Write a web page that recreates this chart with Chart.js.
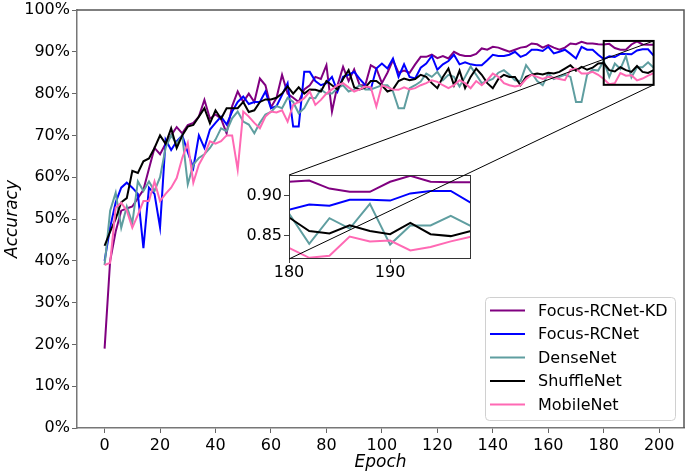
<!DOCTYPE html>
<html>
<head>
<meta charset="utf-8">
<script src="https://cdn.jsdelivr.net/npm/chart.js@4.4.1/dist/chart.umd.min.js"></script>
<style>
  html, body { margin: 0; padding: 0; background: #fff; }
  #wrap { position: relative; width: 685px; height: 474px; }
  #wrap canvas { position: absolute; }
</style>
</head>
<body>
<div id="wrap">
  <canvas id="main" width="685" height="474" style="left:0;top:0"></canvas>
  <canvas id="inset" width="250" height="120" style="left:235px;top:165px"></canvas>
  <canvas id="overlay" width="685" height="474" style="left:0;top:0"></canvas>
</div>
<script>
// data (one value every 2 epochs)
const epochs = [0,2,4,6,8,10,12,14,16,18,20,22,24,26,28,30,32,34,36,38,
  40,42,44,46,48,50,52,54,56,58,60,62,64,66,68,70,72,74,76,78,
  80,82,84,86,88,90,92,94,96,98,100,102,104,106,108,110,112,114,116,118,
  120,122,124,126,128,130,132,134,136,138,140,142,144,146,148,150,152,154,156,158,
  160,162,164,166,168,170,172,174,176,178,180,182,184,186,188,190,192,194,196,198];

const focusKD = [0.19,0.40,0.47,0.52,0.525,0.53,0.55,0.57,0.62,0.67,
  0.655,0.68,0.70,0.72,0.705,0.725,0.73,0.745,0.785,0.74,
  0.75,0.74,0.705,0.77,0.805,0.78,0.80,0.78,0.836,0.82,
  0.767,0.79,0.845,0.80,0.79,0.78,0.81,0.82,0.84,0.835,
  0.868,0.757,0.82,0.864,0.83,0.858,0.82,0.82,0.868,0.86,
  0.825,0.85,0.88,0.85,0.855,0.85,0.87,0.888,0.888,0.893,
  0.885,0.89,0.884,0.90,0.893,0.89,0.89,0.895,0.908,0.905,
  0.912,0.91,0.905,0.90,0.905,0.91,0.912,0.92,0.918,0.91,
  0.916,0.91,0.905,0.91,0.92,0.918,0.924,0.92,0.92,0.918,
  0.9175,0.919,0.909,0.905,0.905,0.9175,0.925,0.9175,0.917,0.917];

const focus = [0.40,0.48,0.54,0.575,0.587,0.575,0.56,0.43,0.575,0.56,
  0.48,0.69,0.665,0.686,0.70,0.66,0.622,0.70,0.67,0.714,
  0.73,0.745,0.726,0.757,0.78,0.793,0.775,0.78,0.78,0.805,
  0.765,0.77,0.797,0.825,0.721,0.721,0.852,0.852,0.83,0.82,
  0.825,0.84,0.805,0.84,0.845,0.852,0.835,0.82,0.81,0.86,
  0.872,0.86,0.884,0.84,0.87,0.84,0.836,0.862,0.872,0.89,
  0.857,0.87,0.878,0.893,0.87,0.875,0.87,0.868,0.868,0.88,
  0.893,0.89,0.89,0.893,0.90,0.888,0.893,0.905,0.905,0.902,
  0.912,0.896,0.90,0.905,0.895,0.884,0.912,0.905,0.905,0.893,
  0.8825,0.889,0.8875,0.895,0.895,0.894,0.903,0.906,0.906,0.891];

const denseNet = [0.39,0.52,0.563,0.479,0.53,0.49,0.59,0.567,0.59,0.567,
  0.60,0.67,0.70,0.68,0.70,0.583,0.63,0.646,0.655,0.67,
  0.69,0.717,0.71,0.741,0.757,0.733,0.726,0.705,0.73,0.75,
  0.756,0.77,0.765,0.79,0.78,0.753,0.765,0.79,0.789,0.81,
  0.80,0.80,0.813,0.82,0.805,0.81,0.82,0.81,0.81,0.815,
  0.82,0.82,0.805,0.765,0.765,0.813,0.82,0.829,0.848,0.84,
  0.852,0.832,0.845,0.84,0.817,0.84,0.865,0.845,0.825,0.83,
  0.835,0.85,0.856,0.845,0.832,0.83,0.868,0.85,0.83,0.82,
  0.848,0.835,0.84,0.845,0.84,0.78,0.78,0.845,0.857,0.855,
  0.878,0.84,0.872,0.859,0.89,0.839,0.863,0.863,0.875,0.862];

const shuffleNet = [0.436,0.47,0.50,0.54,0.55,0.615,0.61,0.638,0.645,0.67,
  0.70,0.68,0.717,0.67,0.70,0.721,0.725,0.745,0.765,0.729,
  0.76,0.74,0.765,0.765,0.765,0.78,0.756,0.76,0.78,0.786,
  0.786,0.79,0.80,0.817,0.80,0.815,0.80,0.81,0.809,0.805,
  0.83,0.82,0.81,0.835,0.856,0.815,0.81,0.815,0.83,0.83,
  0.82,0.805,0.81,0.83,0.836,0.832,0.835,0.845,0.84,0.825,
  0.813,0.84,0.86,0.82,0.855,0.813,0.84,0.86,0.845,0.825,
  0.813,0.835,0.845,0.84,0.84,0.82,0.84,0.845,0.848,0.846,
  0.85,0.848,0.852,0.86,0.868,0.855,0.864,0.857,0.862,0.872,
  0.873,0.856,0.853,0.863,0.856,0.852,0.866,0.852,0.8496,0.856];

const mobileNet = [0.39,0.395,0.527,0.539,0.52,0.479,0.51,0.543,0.543,0.59,
  0.543,0.56,0.575,0.598,0.646,0.682,0.587,0.63,0.654,0.686,
  0.68,0.686,0.70,0.70,0.618,0.757,0.745,0.73,0.717,0.745,
  0.757,0.755,0.76,0.733,0.773,0.78,0.789,0.805,0.773,0.785,
  0.80,0.81,0.82,0.825,0.815,0.805,0.81,0.817,0.815,0.769,
  0.82,0.815,0.81,0.809,0.815,0.81,0.813,0.82,0.825,0.832,
  0.828,0.82,0.813,0.82,0.832,0.825,0.813,0.83,0.82,0.832,
  0.848,0.84,0.825,0.82,0.817,0.82,0.835,0.845,0.84,0.835,
  0.84,0.838,0.835,0.832,0.857,0.86,0.848,0.848,0.852,0.845,
  0.835,0.8225,0.825,0.849,0.843,0.844,0.8317,0.836,0.843,0.849];

const seriesNames = ['Focus-RCNet-KD', 'Focus-RCNet', 'DenseNet', 'ShuffleNet', 'MobileNet'];
const xTicks = [0,20,40,60,80,100,120,140,160,180,200];
const yTicks = [0,0.1,0.2,0.3,0.4,0.5,0.6,0.7,0.8,0.9,1.0];
const insetXRange = [180, 198];
const insetYRange = [0.821, 0.926];
const insetXTicks = [180, 190];
const insetYTicks = [0.85, 0.90];

// styles
const colors = ['#800080', '#0000ff', '#5f9ea0', '#000000', '#ff69b4'];
const allSeries = [focusKD, focus, denseNet, shuffleNet, mobileNet];
Chart.defaults.font.family = 'DejaVu Sans';
Chart.defaults.color = '#000';

function makeDatasets(width) {
  return allSeries.map((s, i) => ({
    label: seriesNames[i],
    data: epochs.map((e, j) => ({ x: e, y: s[j] })),
    borderColor: colors[i],
    backgroundColor: colors[i],
    borderWidth: width,
    pointRadius: 0,
    tension: 0,
    order: allSeries.length - i
  }));
}

// frame + legend for the main plot
const mainDecor = {
  id: 'mainDecor',
  afterDraw(chart) {
    const ctx = chart.ctx, a = chart.chartArea;
    ctx.save();
    ctx.strokeStyle = '#555';
    ctx.lineWidth = 1.5;
    ctx.beginPath();
    ctx.moveTo(a.left, a.top); ctx.lineTo(a.right, a.top); ctx.lineTo(a.right, a.bottom);
    ctx.stroke();

    // legend, lower right
    const w = 190, h = 123;
    const lx = a.right - 9 - w, ly = a.bottom - 8 - h;
    ctx.beginPath();
    ctx.roundRect(lx + 0.5, ly + 0.5, w, h, 4);
    ctx.fillStyle = 'rgba(255,255,255,0.85)';
    ctx.fill();
    ctx.strokeStyle = '#d0d0d0';
    ctx.lineWidth = 1;
    ctx.stroke();
    ctx.font = '16px "DejaVu Sans"';
    ctx.textBaseline = 'middle';
    chart.data.datasets.forEach((ds, i) => {
      const yy = ly + 13.5 + i * 23.5;
      ctx.strokeStyle = ds.borderColor;
      ctx.lineWidth = 2;
      ctx.beginPath();
      ctx.moveTo(lx + 5, yy); ctx.lineTo(lx + 40, yy);
      ctx.stroke();
      ctx.fillStyle = '#000';
      ctx.fillText(ds.label, lx + 53, yy + 1);
    });
    ctx.restore();
  }
};

const mainChart = new Chart(document.getElementById('main'), {
  type: 'line',
  data: { datasets: makeDatasets(2) },
  plugins: [mainDecor],
  options: {
    responsive: false,
    animation: false,
    layout: { padding: { top: 8, right: 1, left: 0, bottom: 0 } },
    plugins: { legend: { display: false }, tooltip: { enabled: false } },
    scales: {
      x: {
        type: 'linear', min: -9.95, max: 208.95,
        afterBuildTicks: s => { s.ticks = xTicks.map(v => ({ value: v })); },
        afterFit: s => { s.height = 46; },
        ticks: { font: { size: 16 }, color: '#000', padding: 3, maxRotation: 0, autoSkip: false },
        grid: { drawOnChartArea: false, tickLength: 5, color: '#666' },
        border: { color: '#777', width: 1.5 },
        title: { display: true, text: 'Epoch', font: { size: 17, style: 'italic' }, color: '#000', padding: { top: 0, bottom: 1 } }
      },
      y: {
        type: 'linear', min: 0, max: 1,
        afterBuildTicks: s => { s.ticks = yTicks.map(v => ({ value: v })); },
        afterFit: s => { s.width = 77; },
        ticks: { font: { size: 16, lineHeight: 1 }, color: '#000', padding: 2, autoSkip: false,
                 callback: v => Math.round(v * 100) + '%' },
        grid: { drawOnChartArea: false, tickLength: 5, color: '#666' },
        border: { color: '#777', width: 1.5 },
        title: { display: true, text: 'Accuracy', font: { size: 17, style: 'italic' }, color: '#000', padding: { top: 2, bottom: 0 } }
      }
    }
  }
});

// inset: white plot area + thin frame
const insetDecor = {
  id: 'insetDecor',
  beforeDraw(chart) {
    const ctx = chart.ctx, a = chart.chartArea;
    ctx.save();
    ctx.fillStyle = '#fff';
    ctx.fillRect(a.left, a.top, a.right - a.left, a.bottom - a.top);
    ctx.restore();
  },
  afterDraw(chart) {
    const ctx = chart.ctx, a = chart.chartArea;
    ctx.save();
    ctx.strokeStyle = '#333';
    ctx.lineWidth = 1;
    ctx.strokeRect(a.left + 0.5, a.top + 0.5, a.right - a.left - 1, a.bottom - a.top - 1);
    ctx.restore();
  }
};

const insetChart = new Chart(document.getElementById('inset'), {
  type: 'line',
  data: { datasets: makeDatasets(2) },
  plugins: [insetDecor],
  options: {
    responsive: false,
    animation: false,
    layout: { padding: { top: 10, right: 14, left: 0, bottom: 0 } },
    plugins: { legend: { display: false }, tooltip: { enabled: false } },
    scales: {
      x: {
        type: 'linear', min: insetXRange[0], max: insetXRange[1],
        afterBuildTicks: s => { s.ticks = insetXTicks.map(v => ({ value: v })); },
        afterFit: s => { s.height = 26; },
        ticks: { font: { size: 16, lineHeight: 1 }, color: '#000', padding: 2, maxRotation: 0, autoSkip: false },
        grid: { drawOnChartArea: false, tickLength: 4, color: '#444' },
        border: { display: false }
      },
      y: {
        type: 'linear', min: insetYRange[0], max: insetYRange[1],
        afterBuildTicks: s => { s.ticks = insetYTicks.map(v => ({ value: v })); },
        afterFit: s => { s.width = 54; },
        ticks: { font: { size: 16, lineHeight: 1 }, color: '#000', padding: 2, autoSkip: false,
                 callback: v => v.toFixed(2) },
        grid: { drawOnChartArea: false, tickLength: 5, color: '#444' },
        border: { display: false }
      }
    }
  }
});

// zoom box on the main plot and connector lines to the inset
(function drawOverlay() {
  const ov = document.getElementById('overlay').getContext('2d');
  const xs = mainChart.scales.x, ys = mainChart.scales.y;
  const rx0 = xs.getPixelForValue(insetXRange[0]), rx1 = xs.getPixelForValue(insetXRange[1]);
  const ry0 = ys.getPixelForValue(insetYRange[1]), ry1 = ys.getPixelForValue(insetYRange[0]);
  const cv = document.getElementById('inset');
  const ox = cv.offsetLeft, oy = cv.offsetTop;
  const ia = insetChart.chartArea;
  ov.strokeStyle = '#000';
  ov.lineWidth = 2;
  ov.strokeRect(rx0, ry0, rx1 - rx0, ry1 - ry0);
  ov.lineWidth = 1;
  ov.beginPath();
  ov.moveTo(ox + ia.left, oy + ia.top); ov.lineTo(rx1, ry0);
  ov.moveTo(ox + ia.left, oy + ia.bottom); ov.lineTo(rx1, ry1);
  ov.stroke();
})();
</script>
</body>
</html>
